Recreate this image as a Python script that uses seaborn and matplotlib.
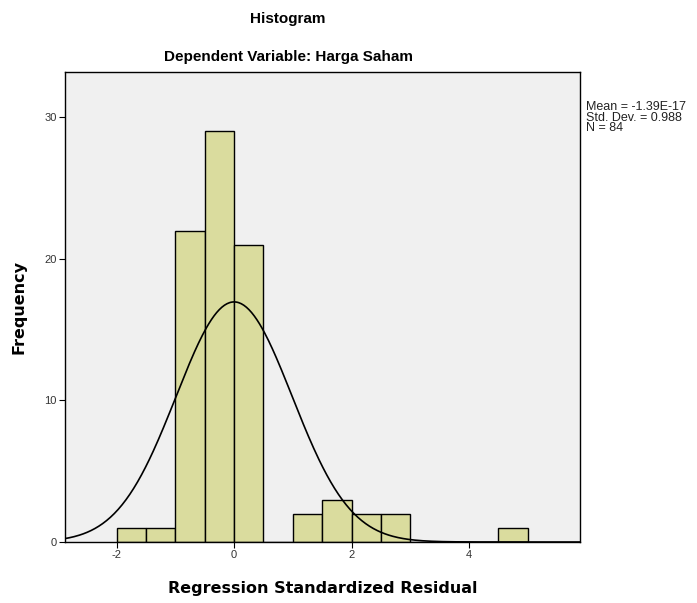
import numpy as np
import pandas as pd
import matplotlib
matplotlib.use("Agg")
import matplotlib.pyplot as plt
import seaborn as sns

# Data
bin_left = [-2.0, -1.5, -1.0, -0.5, 0.0, 0.5, 1.0, 1.5, 2.0, 2.5, 3.0, 3.5, 4.0, 4.5]
counts   = [1,    1,    22,   29,   21,   0,   2,   3,   2,   2,   0,   0,   0,   1]
mean_val = -1.39e-17
std_val = 0.988
n_val = 84
x_ticks = [-2, 0, 2, 4]
y_ticks = [0, 10, 20, 30]

bw = 0.5
df = pd.DataFrame({"resid": np.array(bin_left) + bw / 2, "freq": counts})

sns.set_theme(style="white")
plt.rcParams['font.family'] = ['Liberation Sans', 'DejaVu Sans']
plt.rcParams['axes.unicode_minus'] = False
plt.rcParams['text.color'] = 'black'
plt.rcParams['axes.labelcolor'] = 'black'

fig = plt.figure(figsize=(6.97, 6.03), dpi=100)
ax = fig.add_axes([65/697, 1 - 542/603, (580-65)/697, (542-72)/603])
ax.set_facecolor('#f0f0f0')

sns.histplot(data=df, x="resid", weights="freq", binwidth=bw, binrange=(-2, 5),
             color='#dadc9e', edgecolor='black', linewidth=1.0, alpha=1.0, ax=ax)

xs = np.linspace(-2.9, 5.9, 400)
ys = n_val * bw * np.exp(-0.5 * ((xs - mean_val) / std_val) ** 2) / (std_val * np.sqrt(2 * np.pi))
sns.lineplot(x=xs, y=ys, color='black', linewidth=1.2, ax=ax)

ax.set_xlim(-2.88, 5.89)
ax.set_ylim(0, 33.2)
ax.set_xticks(x_ticks)
ax.set_yticks(y_ticks)
ax.tick_params(axis='both', direction='out', length=4, width=0.8, colors='black',
               labelsize=8, labelcolor='#333333', bottom=True, left=True, pad=2)
for s in ax.spines.values():
    s.set_color('black')
    s.set_linewidth(1.0)

ax.set_xlabel("Regression Standardized Residual", fontsize=11.5, fontweight='bold',
              family='DejaVu Sans', labelpad=15)
ax.set_ylabel("Frequency", fontsize=11.5, fontweight='bold', family='DejaVu Sans', labelpad=13)

fig.text(288/697, 1 - 19/603, "Histogram", ha='center', va='center',
         fontsize=11, fontweight='bold')
fig.text(288/697, 1 - 57/603, "Dependent Variable: Harga Saham", ha='center', va='center',
         fontsize=11, fontweight='bold')

fig.text(586/697, 1 - 101/603, "Mean = -1.39E-17\nStd. Dev. = 0.988\nN = 84",
         ha='left', va='top', fontsize=9, color='#222222', linespacing=0.85)

fig.savefig("out.png", dpi=100, facecolor='white')
